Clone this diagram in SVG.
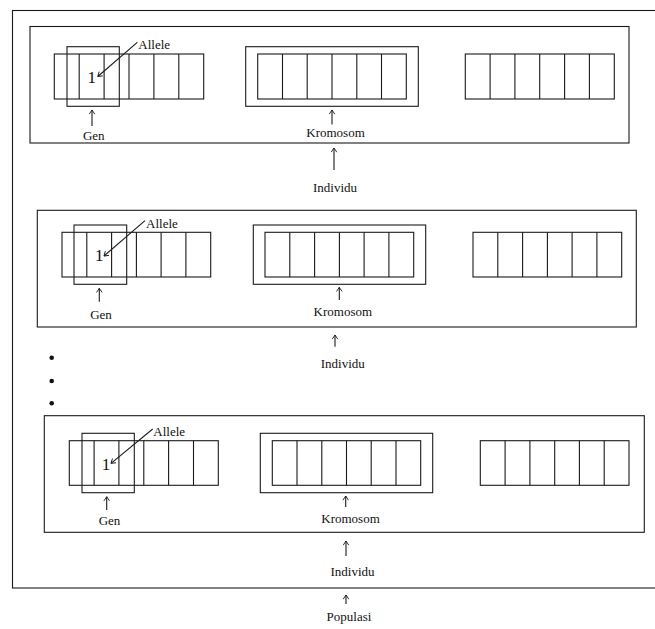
<svg xmlns="http://www.w3.org/2000/svg" width="655" height="629" viewBox="0 0 655 629">
<defs>
<marker id="ah" viewBox="0 0 10 10" refX="9" refY="5" markerWidth="7" markerHeight="7" orient="auto" markerUnits="userSpaceOnUse">
<path d="M3,1 L9,5 L3,9" fill="none" stroke="#1a1a1a" stroke-width="1.3"/>
</marker>
<style>
.box{fill:none;stroke:#1a1a1a;stroke-width:1.1}
.cell{fill:none;stroke:#1a1a1a;stroke-width:1.1}
.lbl{font-family:"Liberation Serif","Times New Roman",serif;font-size:13px;fill:#111;text-anchor:middle}
.one{font-family:"Liberation Serif","Times New Roman",serif;font-size:17px;fill:#111;text-anchor:middle}
.arr{stroke:#1a1a1a;stroke-width:1.1;fill:none;marker-end:url(#ah)}
.dot{fill:#111}
</style>
</defs>
<rect width="655" height="629" fill="#fff"/>

<g id="populasi">
<rect class="box" x="12.5" y="10.5" width="660" height="577.5"/>
<text class="lbl" x="349" y="621">Populasi</text>
</g>

<!-- Individu 1 -->
<g id="individu1">
<rect class="box" x="30" y="26.5" width="599" height="116.5"/>
<text class="lbl" x="335" y="191.5">Individu</text>
</g>
<g id="kromosom1a">
<rect class="cell" x="54.3" y="54" width="149.4" height="45"/>
<path class="cell" d="M79.2,54V99M104.1,54V99M129,54V99M153.9,54V99M178.8,54V99"/>
</g>
<g id="gen1">
<rect class="box" x="67" y="46.7" width="52.3" height="59.6"/>
<text class="lbl" x="93.8" y="140">Gen</text>
</g>
<g id="allele1">
<text class="one" x="91.8" y="83.3">1</text>
<text class="lbl" x="154.2" y="49.3">Allele</text>
</g>
<g id="kromosom1b">
<rect class="box" x="245.7" y="46.7" width="172.6" height="59.6"/>
<rect class="cell" x="257.7" y="54" width="148.6" height="45"/>
<path class="cell" d="M282.5,54V99M307.2,54V99M332,54V99M356.8,54V99M381.5,54V99"/>
<text class="lbl" x="335.5" y="136.7">Kromosom</text>
</g>
<g id="kromosom1c">
<rect class="cell" x="465.3" y="54" width="149" height="45"/>
<path class="cell" d="M490.1,54V99M514.9,54V99M539.7,54V99M564.6,54V99M589.4,54V99"/>
</g>

<!-- Individu 2 -->
<g id="individu2">
<rect class="box" x="37.3" y="210.3" width="599" height="116.7"/>
<text class="lbl" x="342.8" y="368.3">Individu</text>
</g>
<g id="kromosom2a">
<rect class="cell" x="62" y="232.3" width="148.7" height="44.7"/>
<path class="cell" d="M86.8,232.3V277M111.6,232.3V277M136.4,232.3V277M161.1,232.3V277M185.9,232.3V277"/>
</g>
<g id="gen2">
<rect class="box" x="74" y="225" width="52.7" height="59.3"/>
<text class="lbl" x="101" y="319">Gen</text>
</g>
<g id="allele2">
<text class="one" x="99.3" y="261">1</text>
<text class="lbl" x="161.9" y="227.7">Allele</text>
</g>
<g id="kromosom2b">
<rect class="box" x="253.3" y="225" width="172.4" height="59.3"/>
<rect class="cell" x="265" y="232.3" width="148.7" height="44.7"/>
<path class="cell" d="M289.8,232.3V277M314.6,232.3V277M339.4,232.3V277M364.1,232.3V277M388.9,232.3V277"/>
<text class="lbl" x="342.8" y="316">Kromosom</text>
</g>
<g id="kromosom2c">
<rect class="cell" x="473" y="232.3" width="148.7" height="44.7"/>
<path class="cell" d="M497.8,232.3V277M522.6,232.3V277M547.4,232.3V277M572.1,232.3V277M596.9,232.3V277"/>
</g>

<g id="dots">
<circle class="dot" cx="51.7" cy="357.7" r="2.3"/>
<circle class="dot" cx="51.7" cy="381" r="2.3"/>
<circle class="dot" cx="51.7" cy="403.3" r="2.3"/>
</g>

<!-- Individu 3 -->
<g id="individu3">
<rect class="box" x="44.3" y="415.7" width="600" height="116.6"/>
<text class="lbl" x="352.5" y="575.7">Individu</text>
</g>
<g id="kromosom3a">
<rect class="cell" x="69.3" y="440.7" width="149" height="44.6"/>
<path class="cell" d="M94.1,440.7V485.3M118.9,440.7V485.3M143.8,440.7V485.3M168.6,440.7V485.3M193.5,440.7V485.3"/>
</g>
<g id="gen3">
<rect class="box" x="82" y="433.3" width="52.3" height="59.4"/>
<text class="lbl" x="109.5" y="525">Gen</text>
</g>
<g id="allele3">
<text class="one" x="106" y="470">1</text>
<text class="lbl" x="169.2" y="436">Allele</text>
</g>
<g id="kromosom3b">
<rect class="box" x="260.3" y="433.3" width="172.4" height="59.4"/>
<rect class="cell" x="272.3" y="440.7" width="148.4" height="44.6"/>
<path class="cell" d="M297,440.7V485.3M321.8,440.7V485.3M346.5,440.7V485.3M371.2,440.7V485.3M396,440.7V485.3"/>
<text class="lbl" x="350.5" y="523.3">Kromosom</text>
</g>
<g id="kromosom3c">
<rect class="cell" x="480.3" y="440.7" width="148.7" height="44.6"/>
<path class="cell" d="M505.1,440.7V485.3M529.9,440.7V485.3M554.7,440.7V485.3M579.4,440.7V485.3M604.2,440.7V485.3"/>
</g>

<g id="connectors">
<line class="arr" x1="137.3" y1="42.3" x2="97.8" y2="76.5"/>
<line class="arr" x1="92" y1="126" x2="92" y2="110"/>
<line class="arr" x1="332" y1="124.5" x2="332" y2="110"/>
<line class="arr" x1="334" y1="170" x2="334" y2="148"/>

<line class="arr" x1="145" y1="220.7" x2="104" y2="256"/>
<line class="arr" x1="99.3" y1="301.7" x2="99.3" y2="288.3"/>
<line class="arr" x1="339.3" y1="300" x2="339.3" y2="287.3"/>
<line class="arr" x1="335" y1="346.7" x2="335" y2="335"/>

<line class="arr" x1="152.7" y1="429" x2="111" y2="463.3"/>
<line class="arr" x1="106.7" y1="510" x2="106.7" y2="496.7"/>
<line class="arr" x1="345.7" y1="507" x2="345.7" y2="496"/>
<line class="arr" x1="346" y1="556" x2="346" y2="541"/>
<line class="arr" x1="346" y1="604" x2="346" y2="595"/>
</g>
</svg>
